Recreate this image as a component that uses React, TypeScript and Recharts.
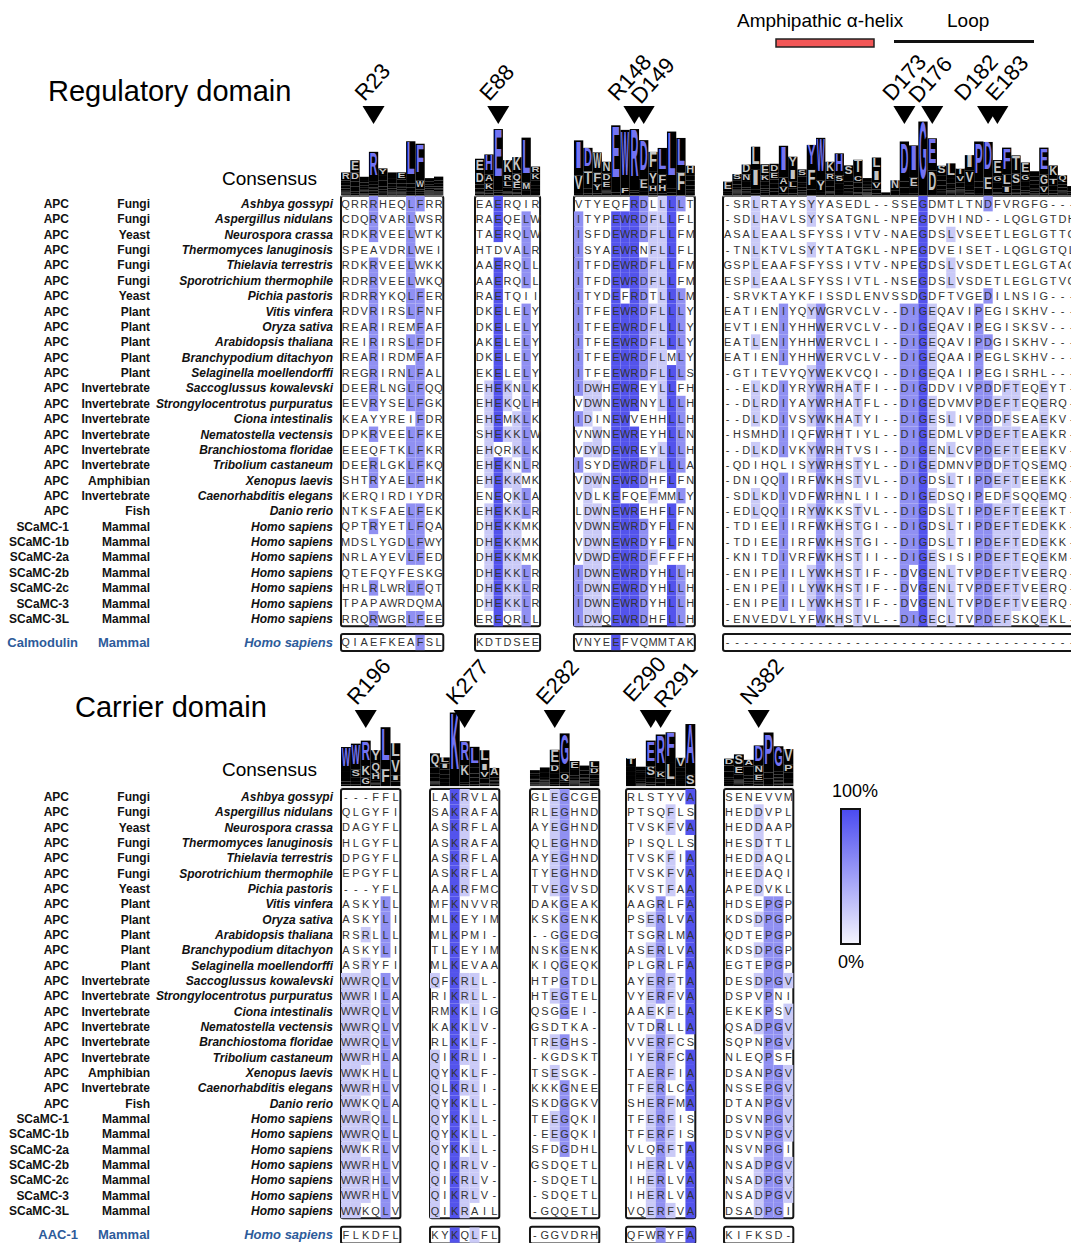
import React from "react";
import { ScatterChart, Scatter, XAxis, YAxis, ReferenceArea } from "recharts";

const FONT = "'Liberation Sans', Arial, Helvetica, sans-serif";
const LABEL_W = 341;
const LOGO_K = 17; // px per bit in the sequence logos

// row labels, shared by both domains
const groups = [
  "APC", "APC", "APC", "APC", "APC", "APC", "APC", "APC", "APC", "APC", "APC", "APC",
  "APC", "APC", "APC", "APC", "APC", "APC", "APC", "APC", "APC",
  "SCaMC-1", "SCaMC-1b", "SCaMC-2a", "SCaMC-2b", "SCaMC-2c", "SCaMC-3", "SCaMC-3L",
];
const kingdoms = [
  "Fungi", "Fungi", "Yeast", "Fungi", "Fungi", "Fungi", "Yeast", "Plant", "Plant", "Plant", "Plant", "Plant",
  "Invertebrate", "Invertebrate", "Invertebrate", "Invertebrate", "Invertebrate", "Invertebrate",
  "Amphibian", "Invertebrate", "Fish",
  "Mammal", "Mammal", "Mammal", "Mammal", "Mammal", "Mammal", "Mammal",
];
const species = [
  "Ashbya gossypi", "Aspergillus nidulans", "Neurospora crassa", "Thermomyces lanuginosis",
  "Thielavia terrestris", "Sporotrichium thermophile", "Pichia pastoris", "Vitis vinfera",
  "Oryza sativa", "Arabidopsis thaliana", "Branchypodium ditachyon", "Selaginella moellendorffi",
  "Saccoglussus kowalevski", "Strongylocentrotus purpuratus", "Ciona intestinalis",
  "Nematostella vectensis", "Branchiostoma floridae", "Tribolium castaneum", "Xenopus laevis",
  "Caenorhabditis elegans", "Danio rerio",
  "Homo sapiens", "Homo sapiens", "Homo sapiens", "Homo sapiens", "Homo sapiens", "Homo sapiens", "Homo sapiens",
];

// regulatory domain
const regR23 = [
  "QRRRHEQLFRR", "CDQRVARLWSR", "RDKRVEELWTK", "SPEAVDRLWEI", "RDKRVEELWKK", "RDRRVEELWKQ",
  "RDRRYKQLFER", "RDVRIRSLFNF", "REARIREMFAF", "REIRIRSLFDF", "REARIRDMFAF", "REGRIRNLFAL",
  "DEERLNGLFQQ", "EEVRYSELFGK", "KEAYYREIFDR", "DPKRVEELFKE", "EEEQFTKLFKR", "DEERLGKLFKQ",
  "SHTRYAELFHK", "KERQIRDIYDR", "NTKSFAELFEK", "QPTRYETLFQA", "MDSLYGDLFWY", "NRLAYEVLFED",
  "QTEFQYFESKG", "HRLRLWRLFQT", "TPAPAWRDQMA", "RRQRWGRLFEE",
];
const regE88 = [
  "EAERQIR", "RAEQELW", "TAERQLW", "HTDVALR", "AAERQLL", "AAERQLL", "RAETQII", "DKELELY",
  "DKELELY", "AKELELY", "DKELELY", "EKELELY", "EHEKNLK", "EHEKQLH", "EHEMKLK", "SHEKKLW",
  "EHQRKLK", "EHEKNLR", "EHEKKMK", "ENEQKLA", "EHEKKLR", "DHEKKMK", "DHEKKMK", "DHEKKMK",
  "DHEKKLR", "DHEKKLR", "DHEKKLR", "EREQRLL",
];
const regR148 = [
  "VTYEQFRDLLLLT", "ITYPEWRDFLLFL", "ISFDEWRDFLLFM", "ISYAEWRNFLLFL", "ITFDEWRDFLLFM",
  "ITFDEWRDFLLFM", "ITYDEFRDTLLLM", "ITFEEWRDFLLLY", "ITFEEWRDFLLLY", "ITFEEWRDFLLLY",
  "ITFEEWRDFLMLY", "ITFEEWRDFLLLS", "IDWHEWREYLLFH", "VDWNEWRNYLLLH", "IDINEWVEHHLLH",
  "VNWNEWREYHLLN", "VDWDEWREYLLLH", "ISYDEWRDFLLLA", "VDWNEWRDHFLFN", "VDLKEFQEFMMLY",
  "LDWNEWREHFLFN", "VDWNEWRDYFLFN", "VDWNEWRDYFLFN", "VDWDEWRDFFFFH", "IDWNEWRDYHLLH",
  "IDWNEWRDYHLLH", "IDWNEWRDYHLLH", "IDWQEWRDHFLLH",
];
const regLoop = [
  "-SRLRTAYSYYASEDL--SSEGDMTLTNDFVRGFG---",
  "-SDLHAVLSYYSATGNL-NPEGDVHIND--LQGLGTDH",
  "ASALEAALSFYSSIVTV-NAEGDSLVSEETLEGLGTTG",
  "-TNLKTVLSYYTATGKL-NPEGDVEISET-LQGLGTQL",
  "GSPLEAAFSFYSSIVTV-NPEGDSLVSDETLEGLGTAG",
  "ESPLEAALSFYSSIVTL-NSEGDSLVSDETLEGLGTVG",
  "-SRVKTAYKFISSDLENVSSDGDFTVGEDILNSIG---",
  "EATIENIYQYWGRVCLV--DIGEQAVIPEGISKHV---",
  "EVTIENIYHHWERVCLV--DIGEQAVIPEGISKSV---",
  "EATLENIYHHWERVCLI--DIGEQAVIPDGISKHV---",
  "EATIENIYHHWERVCLV--DIGEQAAIPEGLSKHV---",
  "-GTITEVYQYWEKVCQI--DIGEQAIIPEGISRHL---",
  "--ELKDIYRYWRHATFI--DIGDDVIVPDDFTEQEYT-",
  "--DLRDIYAYWRHATFL--DIGEDVMVPDEFTEQERQ-",
  "--DLKDIVSYWKHATYI--DIGESLIVPDDFSEAEKV-",
  "-HSMHDIIQFWRHTIYL--DIGEDMLVPDEFTEAEKR-",
  "--DLKDIVKYWRHTVSI--DIGENLCVPDEFTEEEKV-",
  "-QDIHQLISYWRHSTYL--DIGEDMNVPDDFTQSEMQ-",
  "-DNIQQIIRFWKHSTVL--DIGDSLTIPDEFTEEEKK-",
  "-SDLKDIVDFWRHNLII--DIGEDSQIPEDFSQQEMQ-",
  "-EDLQQIIRYWKKSTVL--DIGDSLTIPDEFTEEEKT-",
  "-TDIEEIIRFWKHSTGI--DIGDSLTIPDEFTEDEKK-",
  "-TDIEEIIRFWKHSTGI--DIGDSLTIPDEFTEDEKK-",
  "-KNITDIVRFWKHSTII--DIGESISIPDEFTEQEKM-",
  "-ENIPEIILYWKHSTIF--DVGENLTVPDEFTVEERQ-",
  "-ENIPEIILYWKHSTIF--DVGENLTVPDEFTVEERQ-",
  "-ENIPEIILYWKHSTIF--DVGENLTVPDEFTVEERQ-",
  "-ENVEDVLYFWKHSTVL--DIGECLTVPDEFSKQEKL-",
];
const calmodulin = ["QIAEFKEAFSL", "KDTDSEE", "VNYEEFVQMMTAK", "--------------------------------------"];
const regSites = [
  { site: "R23", block: 0, col: 3 },
  { site: "E88", block: 1, col: 2 },
  { site: "R148", block: 2, col: 6 },
  { site: "D149", block: 2, col: 7 },
  { site: "D173", block: 3, col: 19 },
  { site: "D176", block: 3, col: 22 },
  { site: "D182", block: 3, col: 28 },
  { site: "E183", block: 3, col: 29 },
];

// carrier domain
const carR196 = [
  "---FFL", "QLGYFI", "DAGYFL", "HLGYFL", "DPGYFL", "EPGYFL", "---YFL", "ASKYLL", "ASKYLI", "RSRLLL",
  "ASKYLI", "ASRYFI", "WWRQLV", "WWRILA", "WWRQLV", "WWRQLV", "WWRQLV", "WWRHLA", "WWKHLL", "WWRHLV",
  "WWKQLA", "WWRQLL", "WWRQLL", "WWKRLV", "WWRHLV", "WWRHLV", "WWRHLV", "WWKQLV",
];
const carK277 = [
  "LAKRVLA", "SAKRAFA", "ASKRFLA", "ASKRAFA", "ASKRFLA", "ASKRFLA", "AAKRFMC", "MFKNVVR", "MLKEYIM",
  "MLKPMI-", "TLKEYIM", "MLKEVAA", "QFKRLL-", "RIKRLL-", "RMKKLIG", "KAKKLV-", "RLKKLF-", "QIKRLI-",
  "QYKKLF-", "QLKRLI-", "QYKKLL-", "QYKKLL-", "QYKKLL-", "QYKKLL-", "QIKRLV-", "QIKRLV-", "QIKRLV-", "QIKRAIL",
];
const carE282 = [
  "GLEGCGE", "RLEGHND", "AYEGHND", "QLEGHND", "AYEGHND", "TYEGHND", "TVEGVSD", "DAKGEAK", "KSKGENK",
  "--GGEDG", "NSKGENK", "KIQGEQK", "HTPGTDL", "HTEGTEL", "QSGGEI-", "GSDTKA-", "TREGHS-", "-KGDSKT",
  "TSESGK-", "KKKGNEE", "SKDGGKV", "TEEGQKI", "-EEGQKI", "SFDGDHL", "GSDQETL", "-SDQETL", "-SDQETL", "-GQQETL",
];
const carE290 = [
  "RLSTYVA", "PTSQFLS", "TVSKFVA", "PISQLLS", "TVSKFIA", "TVSKFVA", "KVSTFAA", "AAGRLFA", "PSERLVA",
  "TSGRLMA", "ASERLVA", "PLGRLFA", "AYERFTA", "VYERFVA", "AAEKFLA", "VTDRLLA", "VVERFCS", "IYERFCA",
  "TAERFIA", "TFERLCA", "SHERFMA", "TFERFIS", "TFERFIS", "VLQRFTA", "IHERLVA", "IHERLVA", "IHERLVA", "VQERFVA",
];
const carN382 = [
  "SENEVVM", "HEDDVPL", "HEDDAAP", "HESDTTL", "HEDDAQL", "HEEDAQI", "APEDVKL", "HDSEPGP", "KDSDPGP",
  "QDTEPGP", "KDSDPGP", "EGTEPGP", "DESDPGV", "DSPVPNI", "EKEKPSV", "QSADPGV", "SQPNPGV", "NLEQPSF",
  "DSANPGV", "NSSEPGV", "DTANPGV", "DSVNPGV", "DSVNPGV", "NSVNPGI", "NSADPGV", "NSADPGV", "NSADPGV", "DSADPGI",
];
const aac1 = ["FLKDFL", "KYKQLFL", "-GGVDRH", "QFWRYFA", "KIFKSD-"];
const carSites = [
  { site: "R196", block: 0, col: 2 },
  { site: "K277", block: 1, col: 3 },
  { site: "E282", block: 2, col: 2 },
  { site: "E290", block: 3, col: 2 },
  { site: "R291", block: 3, col: 3 },
  { site: "N382", block: 4, col: 3 },
];

// percent identity shading (Jalview style)
const SHADES = ["", "#cacaf7", "#9090f2", "#5353ec"];
const LABEL_NUDGE: Record<string, [number, number]> = {
  R148: [-8, 0], D149: [6, 3], D173: [-3, 0], D176: [-5, 2], D182: [-15, 0], E183: [7, 0],
  E290: [-9, -3], R291: [12, 3],
};

interface ColStat {
  top: string;
  pct: number;
  ic: number;
  letters: { ch: string; f: number }[];
}

function columnStats(rows: string[]): ColStat[] {
  const n = rows.length;
  const len = Math.max(...rows.map((r) => r.length));
  const out: ColStat[] = [];
  for (let i = 0; i < len; i++) {
    const counts: Record<string, number> = {};
    let nonGap = 0;
    rows.forEach((r) => {
      const c = r[i];
      if (c && c !== "-") {
        counts[c] = (counts[c] || 0) + 1;
        nonGap++;
      }
    });
    const sorted = Object.entries(counts).sort((a, b) => b[1] - a[1]);
    let h = 0;
    sorted.forEach(([, c]) => {
      const f = c / nonGap;
      h -= f * Math.log2(f);
    });
    out.push({
      top: sorted.length ? sorted[0][0] : "",
      pct: sorted.length ? sorted[0][1] / n : 0,
      ic: nonGap ? Math.max(0, Math.log2(20) - h) * (nonGap / n) : 0,
      letters: sorted.map(([ch, c]) => ({ ch, f: c / nonGap })),
    });
  }
  return out;
}

function level(p: number) {
  if (p > 0.8) return 3;
  if (p > 0.6) return 2;
  if (p > 0.4) return 1;
  return 0;
}

interface Layout {
  pageTop: number;
  height: number;
  cellW: number;
  rowH: number;
  boxTop: number;
  starts: number[];
  extraRow: number;
  logoPx: number;
  arrowPx: number;
}

const REG_LAYOUT: Layout = {
  pageTop: 0, height: 655, cellW: 9.3, rowH: 15.37, boxTop: 196,
  starts: [0, 14.41, 25.05, 41.08], extraRow: 28.55, logoPx: 195, arrowPx: 115,
};
const CAR_LAYOUT: Layout = {
  pageTop: 630, height: 613, cellW: 9.9, rowH: 15.33, boxTop: 789,
  starts: [0, 8.99, 19.09, 28.79, 38.69], extraRow: 28.6, logoPx: 786, arrowPx: 719,
};

interface DomainProps {
  blocks: string[][];
  extra: string[];
  extraLabel: string;
  sites: { site: string; block: number; col: number }[];
  L: Layout;
}

function DomainChart({ blocks, extra, extraLabel, sites, L }: DomainProps) {
  const row = (px: number) => (px - L.boxTop) / L.rowH - 0.5;
  const yTop = row(L.pageTop);
  const yBottom = row(L.pageTop + L.height);
  const stats = blocks.map(columnStats);
  const xMax = Math.max(...stats.map((s, i) => L.starts[i] + s.length)) + 0.3;
  const width = LABEL_W + xMax * L.cellW;

  const cells: any[] = [];
  const logo: any[] = [];
  const boxes: any[] = [];
  blocks.forEach((rows, b) => {
    const x0 = L.starts[b];
    const st = stats[b];
    const put = (seq: string, y: number) =>
      seq.split("").forEach((ch, i) => {
        const s = st[i];
        const lv = ch !== "-" && s && ch === s.top ? level(s.pct) : 0;
        cells.push({ x: x0 + i + 0.5, y, ch, fill: SHADES[lv] });
      });
    rows.forEach((seq, r) => put(seq, r));
    put(extra[b], L.extraRow);
    st.forEach((s, i) => logo.push({ x: x0 + i + 0.5, y: row(L.logoPx), st: s }));
    boxes.push({ x1: x0, x2: x0 + st.length, y1: -0.5, y2: rows.length - 0.5 });
    boxes.push({ x1: x0, x2: x0 + st.length, y1: L.extraRow - 0.55, y2: L.extraRow + 0.55 });
  });
  const arrows = sites.map((s) => ({ x: L.starts[s.block] + s.col + 0.5, y: row(L.arrowPx), site: s.site }));
  const ticks = [...groups.map((_, i) => i), L.extraRow];

  const cellShape = (p: any) => {
    const { cx, cy, payload } = p;
    return (
      <g>
        {payload.fill && (
          <rect x={cx - L.cellW / 2} y={cy - L.rowH / 2} width={L.cellW} height={L.rowH} fill={payload.fill} />
        )}
        <text x={cx} y={cy + 4} textAnchor="middle" fontSize={11} fontFamily={FONT} fill="#333">
          {payload.ch}
        </text>
      </g>
    );
  };

  const logoShape = (p: any) => {
    const { cx, cy, payload } = p;
    const st: ColStat = payload.st;
    const x0 = cx - L.cellW / 2;
    const parts: React.ReactNode[] = [];
    let yb = cy;
    [...st.letters].reverse().forEach((l, k) => {
      const h = l.f * st.ic * LOGO_K;
      if (h < 0.4) return;
      const top = yb - h;
      parts.push(<rect key={"r" + k} x={x0} y={top} width={L.cellW} height={h} fill="#000" />);
      if (h >= 6) {
        const blue = l.ch === st.top && l.f >= 0.5 && st.pct > 0.4;
        // cap height + descent of a 10px glyph fit the letter's slot
        const sy = h / 9.3;
        parts.push(
          <text
            key={"t" + k}
            x={0}
            y={0}
            fontSize={10}
            fontWeight="bold"
            fontFamily={FONT}
            fill={blue ? "#7373f2" : "#c4c4c4"}
            textLength={L.cellW * 0.86}
            lengthAdjust="spacingAndGlyphs"
            transform={`translate(${x0 + L.cellW * 0.07} ${yb - 2.1 * sy}) scale(1 ${sy})`}
          >
            {l.ch}
          </text>
        );
      }
      yb = top;
    });
    return (
      <g>
        <line x1={x0} x2={x0 + L.cellW} y1={cy + 1} y2={cy + 1} stroke="#c8c8c8" strokeWidth={1} />
        {parts}
      </g>
    );
  };

  const arrowShape = (p: any) => {
    const { cx, cy, payload } = p;
    const [dx, dy] = LABEL_NUDGE[payload.site] ?? [0, 0];
    const tx = cx - 9 + dx;
    const ty = cy - 13 + dy;
    return (
      <g>
        <polygon points={`${cx - 11},${cy - 9} ${cx + 11},${cy - 9} ${cx},${cy + 9}`} fill="#000" />
        <text x={tx} y={ty} fontSize={22} fontFamily={FONT} fill="#000" transform={`rotate(-48 ${tx} ${ty})`}>
          {payload.site}
        </text>
      </g>
    );
  };

  const rowTick = (p: any) => {
    const v = p.payload.value;
    const y = p.y + 4.3;
    if (Number.isInteger(v) && v < groups.length) {
      return (
        <g fontFamily={FONT} fontSize={12} fontWeight="bold" fill="#111">
          <text x={69} y={y} textAnchor="end">{groups[v]}</text>
          <text x={150} y={y} textAnchor="end">{kingdoms[v]}</text>
          <text x={333} y={y} textAnchor="end" fontStyle="italic">{species[v]}</text>
        </g>
      );
    }
    return (
      <g fontFamily={FONT} fontSize={13} fontWeight="bold" fill="#2d5b9a">
        <text x={78} y={y} textAnchor="end">{extraLabel}</text>
        <text x={150} y={y} textAnchor="end">Mammal</text>
        <text x={333} y={y} textAnchor="end" fontStyle="italic">Homo sapiens</text>
      </g>
    );
  };

  return (
    <ScatterChart width={width} height={L.height} margin={{ top: 0, right: 0, bottom: 0, left: 0 }}>
      <XAxis type="number" dataKey="x" domain={[0, xMax]} hide />
      <YAxis
        type="number"
        dataKey="y"
        domain={[yTop, yBottom]}
        reversed
        width={LABEL_W}
        ticks={ticks}
        interval={0}
        tick={rowTick}
        tickLine={false}
        axisLine={false}
      />
      {boxes.map((b, i) => (
        <ReferenceArea key={i} {...b} fill="none" stroke="#151515" strokeWidth={2} radius={2} ifOverflow="visible" />
      ))}
      <Scatter data={logo} shape={logoShape} isAnimationActive={false} />
      <Scatter data={cells} shape={cellShape} isAnimationActive={false} />
      <Scatter data={arrows} shape={arrowShape} isAnimationActive={false} />
    </ScatterChart>
  );
}

export default function App() {
  return (
    <div
      style={{
        position: "absolute", left: 0, top: 0, width: 1071, height: 1243,
        overflow: "hidden", background: "#fff", fontFamily: FONT,
      }}
    >
      <style>{`.recharts-surface{overflow:visible}`}</style>
      <div style={{ position: "absolute", left: 0, top: REG_LAYOUT.pageTop }}>
        <DomainChart
          blocks={[regR23, regE88, regR148, regLoop]}
          extra={calmodulin}
          extraLabel="Calmodulin"
          sites={regSites}
          L={REG_LAYOUT}
        />
      </div>
      <div style={{ position: "absolute", left: 0, top: CAR_LAYOUT.pageTop }}>
        <DomainChart
          blocks={[carR196, carK277, carE282, carE290, carN382]}
          extra={aac1}
          extraLabel="AAC-1"
          sites={carSites}
          L={CAR_LAYOUT}
        />
      </div>
      <svg
        width={1071}
        height={1243}
        style={{ position: "absolute", left: 0, top: 0, pointerEvents: "none" }}
        fontFamily={FONT}
      >
        <defs>
          <linearGradient id="pctScale" x1="0" y1="0" x2="0" y2="1">
            <stop offset="0" stopColor="#4a4af0" />
            <stop offset="1" stopColor="#f4f4fd" />
          </linearGradient>
        </defs>
        <text x={48} y={101} fontSize={29}>Regulatory domain</text>
        <text x={222} y={185} fontSize={19}>Consensus</text>
        <text x={75} y={717} fontSize={29}>Carrier domain</text>
        <text x={222} y={776} fontSize={19}>Consensus</text>
        <text x={737} y={27} fontSize={19}>Amphipathic α-helix</text>
        <rect x={776} y={39} width={98} height={8} fill="#f25757" stroke="#222" strokeWidth={1.5} />
        <text x={947} y={27} fontSize={19}>Loop</text>
        <line x1={894} x2={1034} y1={41.5} y2={41.5} stroke="#111" strokeWidth={3} />
        <text x={832} y={797} fontSize={18}>100%</text>
        <rect x={841} y={809} width={19} height={135} fill="url(#pctScale)" stroke="#111" strokeWidth={2} />
        <text x={838} y={968} fontSize={18}>0%</text>
      </svg>
    </div>
  );
}
